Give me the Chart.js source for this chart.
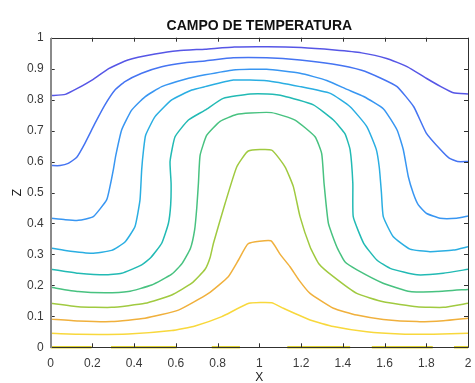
<!DOCTYPE html>
<html>
<head>
<meta charset="utf-8">
<title>Campo de temperatura</title>
<script src="https://cdn.jsdelivr.net/npm/chart.js@4.4.0/dist/chart.umd.min.js"></script>
<style>
  html, body { margin: 0; padding: 0; background: #fff; }
  #wrap { width: 475px; height: 383px; }
</style>
</head>
<body>
<div id="wrap"><canvas id="tempChart" width="475" height="383"></canvas></div>
<script>
// isolines of T as [x, z] pairs (top = coldest level)
const iso01 = [[0,0.813],[0.07,0.817],[0.13,0.837],[0.20,0.864],[0.28,0.901],[0.37,0.928],[0.50,0.947],[0.61,0.958],[0.74,0.963],[0.88,0.970],[1.04,0.971],[1.20,0.968],[1.36,0.960],[1.49,0.951],[1.61,0.933],[1.71,0.906],[1.80,0.869],[1.87,0.842],[1.93,0.822],[2,0.818]];
const iso02 = [[0,0.587],[0.045,0.587],[0.084,0.594],[0.125,0.614],[0.164,0.659],[0.212,0.723],[0.26,0.783],[0.308,0.831],[0.356,0.858],[0.436,0.885],[0.532,0.906],[0.644,0.919],[0.74,0.925],[0.875,0.935],[1.035,0.935],[1.195,0.928],[1.35,0.915],[1.49,0.895],[1.58,0.870],[1.66,0.842],[1.74,0.777],[1.80,0.692],[1.87,0.637],[1.91,0.611],[1.95,0.600],[2,0.600]];
const iso03 = [[0,0.417],[0.07,0.412],[0.132,0.410],[0.204,0.422],[0.268,0.476],[0.284,0.519],[0.30,0.573],[0.312,0.62],[0.34,0.702],[0.388,0.766],[0.452,0.809],[0.532,0.842],[0.644,0.866],[0.74,0.880],[0.875,0.896],[1.035,0.898],[1.195,0.885],[1.323,0.862],[1.42,0.833],[1.50,0.810],[1.595,0.770],[1.66,0.702],[1.69,0.638],[1.714,0.551],[1.738,0.497],[1.762,0.460],[1.80,0.433],[1.866,0.417],[1.946,0.417],[2,0.424]];
const iso04 = [[0,0.321],[0.07,0.313],[0.197,0.304],[0.292,0.313],[0.356,0.340],[0.404,0.390],[0.428,0.476],[0.436,0.573],[0.445,0.638],[0.455,0.685],[0.50,0.745],[0.58,0.799],[0.676,0.831],[0.74,0.842],[0.875,0.863],[1.035,0.861],[1.195,0.842],[1.34,0.820],[1.435,0.777],[1.515,0.713],[1.56,0.64],[1.575,0.58],[1.585,0.50],[1.594,0.422],[1.642,0.357],[1.722,0.317],[1.818,0.309],[1.93,0.314],[2,0.325]];
const iso05 = [[0,0.252],[0.07,0.245],[0.132,0.239],[0.26,0.234],[0.34,0.239],[0.436,0.266],[0.48,0.29],[0.532,0.336],[0.564,0.40],[0.575,0.46],[0.577,0.53],[0.572,0.60],[0.596,0.680],[0.66,0.734],[0.74,0.766],[0.827,0.804],[0.956,0.818],[1.04,0.818],[1.115,0.812],[1.259,0.783],[1.355,0.734],[1.41,0.690],[1.435,0.638],[1.448,0.530],[1.45,0.422],[1.50,0.336],[1.563,0.282],[1.627,0.255],[1.756,0.234],[1.881,0.239],[2,0.252]];
const iso06 = [[0,0.194],[0.132,0.180],[0.26,0.176],[0.372,0.180],[0.484,0.201],[0.58,0.236],[0.63,0.271],[0.67,0.320],[0.69,0.38],[0.70,0.45],[0.708,0.530],[0.716,0.620],[0.748,0.685],[0.812,0.730],[0.89,0.752],[0.956,0.757],[1.059,0.758],[1.171,0.734],[1.267,0.680],[1.299,0.625],[1.31,0.530],[1.331,0.40],[1.371,0.325],[1.41,0.276],[1.468,0.250],[1.593,0.207],[1.722,0.180],[1.852,0.180],[2,0.187]];
const iso07 = [[0,0.142],[0.132,0.131],[0.292,0.129],[0.452,0.142],[0.58,0.169],[0.676,0.207],[0.74,0.252],[0.764,0.290],[0.78,0.336],[0.836,0.465],[0.892,0.583],[0.947,0.634],[1.059,0.637],[1.123,0.583],[1.163,0.519],[1.195,0.422],[1.243,0.325],[1.285,0.270],[1.355,0.228],[1.467,0.174],[1.594,0.147],[1.755,0.131],[1.882,0.129],[2,0.142]];
const iso08 = [[0,0.091],[0.132,0.085],[0.292,0.083],[0.452,0.094],[0.612,0.120],[0.756,0.174],[0.851,0.228],[0.90,0.282],[0.947,0.335],[1.055,0.344],[1.10,0.300],[1.147,0.260],[1.19,0.217],[1.243,0.174],[1.355,0.126],[1.467,0.104],[1.594,0.090],[1.755,0.083],[1.882,0.086],[2,0.094]];
const iso09 = [[0,0.045],[0.132,0.042],[0.372,0.043],[0.58,0.054],[0.692,0.069],[0.82,0.099],[0.95,0.142],[1.059,0.144],[1.115,0.126],[1.243,0.088],[1.355,0.067],[1.515,0.050],[1.674,0.043],[1.834,0.042],[2,0.045]];
// pieces of the hot-wall level lying on z = 0
const wallPieces = [[0,0.196],[0.289,0.604],[0.772,0.907],[1.134,1.435],[1.539,1.831],[1.933,2]];

const isoColors = ["#5656e6", "#4574f2", "#3896f2", "#2aaee2", "#22bab4", "#48c280", "#a0ca40", "#f0b03c", "#f8d83c"];
const wallColor = "#dcd030";

const xTicks = [0, 0.2, 0.4, 0.6, 0.8, 1, 1.2, 1.4, 1.6, 1.8, 2];
const zTicks = [0, 0.1, 0.2, 0.3, 0.4, 0.5, 0.6, 0.7, 0.8, 0.9, 1];

const toPoints = arr => arr.map(p => ({ x: p[0], y: p[1] }));

const datasets = [iso01, iso02, iso03, iso04, iso05, iso06, iso07, iso08, iso09].map((iso, i) => ({
    data: toPoints(iso),
    borderColor: isoColors[i],
    borderWidth: 1.5,
    showLine: true,
    pointRadius: 0,
    tension: 0.15
}));

const wallData = [];
wallPieces.forEach(seg => {
    wallData.push({ x: seg[0], y: 0 }, { x: seg[1], y: 0 }, { x: seg[1], y: null });
});
datasets.push({
    data: wallData,
    borderColor: wallColor,
    borderWidth: 2.5,
    showLine: true,
    pointRadius: 0,
    spanGaps: false,
    clip: false
});

// axes box with inward ticks and the title, MATLAB style
const matlabFrame = {
    id: "matlabFrame",
    afterDatasetsDraw(chart) {
        const { ctx, chartArea: a, scales } = chart;
        ctx.save();
        ctx.lineWidth = 1;
        ctx.strokeStyle = "#303030";
        ctx.beginPath();
        scales.x.ticks.forEach(t => {
            const px = Math.round(scales.x.getPixelForValue(t.value)) + 0.5;
            ctx.moveTo(px, a.bottom); ctx.lineTo(px, a.bottom - 4);
            ctx.moveTo(px, a.top); ctx.lineTo(px, a.top + 4);
        });
        scales.y.ticks.forEach(t => {
            const py = Math.round(scales.y.getPixelForValue(t.value)) + 0.5;
            ctx.moveTo(a.left, py); ctx.lineTo(a.left + 4, py);
            ctx.moveTo(a.right, py); ctx.lineTo(a.right - 4, py);
        });
        ctx.stroke();

        const l = Math.round(a.left), r = Math.round(a.right) + 0.5;
        const t = Math.round(a.top) + 0.5, b = Math.round(a.bottom) + 0.5;
        ctx.beginPath();
        ctx.moveTo(l, t); ctx.lineTo(r, t); ctx.lineTo(r, b); ctx.lineTo(l, b);
        ctx.stroke();
        ctx.lineWidth = 2;
        ctx.strokeStyle = "#8a8a8a";
        ctx.beginPath();
        ctx.moveTo(l, t - 0.5); ctx.lineTo(l, b + 0.5);
        ctx.stroke();

        ctx.fillStyle = "#111";
        ctx.font = "bold 14px 'Liberation Sans', Arial, sans-serif";
        ctx.textAlign = "center";
        ctx.textBaseline = "middle";
        ctx.fillText("CAMPO DE TEMPERATURA", (a.left + a.right) / 2, 26);
        ctx.restore();
    }
};

const tickFont = { family: "'Liberation Sans', Arial, sans-serif", size: 12 };

new Chart(document.getElementById("tempChart"), {
    type: "scatter",
    data: { datasets },
    options: {
        responsive: false,
        animation: false,
        devicePixelRatio: 1,
        layout: { padding: { top: 37.7, right: 7, bottom: 0, left: 0 } },
        plugins: { legend: { display: false }, tooltip: { enabled: false }, title: { display: false } },
        scales: {
            x: {
                type: "linear", min: 0, max: 2,
                afterBuildTicks: s => { s.ticks = xTicks.map(v => ({ value: v })); },
                afterFit: s => { s.height = 35.7; s.paddingLeft = 0; s.paddingRight = 0; },
                grid: { display: false, drawTicks: false },
                border: { display: false },
                ticks: { padding: 9, color: "#3a3a3a", font: tickFont, maxRotation: 0, callback: v => String(+v.toFixed(1)) },
                title: { display: true, text: "X", color: "#222", font: { ...tickFont, lineHeight: 1 }, padding: { top: 0, bottom: -1 } }
            },
            y: {
                type: "linear", min: 0, max: 1,
                afterBuildTicks: s => { s.ticks = zTicks.map(v => ({ value: v })); },
                afterFit: s => { s.width = 50.7; s.paddingTop = 0; s.paddingBottom = 0; },
                grid: { display: false, drawTicks: false },
                border: { display: false },
                ticks: { padding: 7, color: "#3a3a3a", font: tickFont, callback: v => String(+v.toFixed(1)) },
                title: { display: true, text: "Z", color: "#222", font: { ...tickFont, lineHeight: 1 }, padding: { top: 12, bottom: 0 } }
            }
        }
    },
    plugins: [matlabFrame]
});
</script>
</body>
</html>
